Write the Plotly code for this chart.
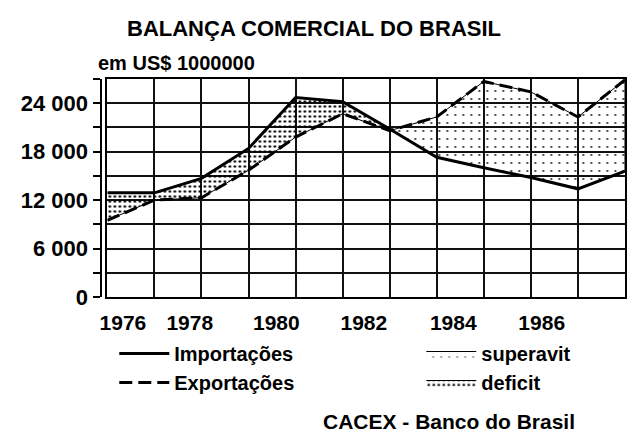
import plotly.graph_objects as go

years = [1976, 1977, 1978, 1979, 1980, 1981, 1982, 1983, 1984, 1985, 1986, 1987]
importacoes = [12900, 12900, 14700, 18400, 24700, 24200, 20800, 17300, 16000, 14800, 13400, 15600]
exportacoes = [9500, 12000, 12300, 15700, 19800, 22700, 20600, 22300, 26700, 25400, 22300, 26900]

# year labels (as placed in the original, slightly offset from the grid)
label_pos = [1976.33, 1977.75, 1979.59, 1981.45, 1983.35, 1985.23]
label_text = ["1976", "1978", "1980", "1982", "1984", "1986"]

FONT = "Liberation Sans"
W, H = 627, 432
L_PX, T_PX, B_PX = 101, 79, 297
PH = B_PX - T_PX

# split into deficit / superavit regions at crossings
def regions(x, a, b):
    segs = []
    cur_x, cur_a, cur_b = [x[0]], [a[0]], [b[0]]
    sign = a[0] >= b[0]
    for i in range(1, len(x)):
        s = a[i] >= b[i]
        if s != sign:
            d0 = a[i - 1] - b[i - 1]
            d1 = a[i] - b[i]
            t = d0 / (d0 - d1)
            xc = x[i - 1] + t * (x[i] - x[i - 1])
            yc = a[i - 1] + t * (a[i] - a[i - 1])
            cur_x.append(xc); cur_a.append(yc); cur_b.append(yc)
            segs.append((sign, cur_x, cur_a, cur_b))
            cur_x, cur_a, cur_b = [xc], [yc], [yc]
            sign = s
        cur_x.append(x[i]); cur_a.append(a[i]); cur_b.append(b[i])
    segs.append((sign, cur_x, cur_a, cur_b))
    return segs

fig = go.Figure()

segs = regions(years, importacoes, exportacoes)
shown = {True: False, False: False}
CLEAR = "rgba(0,0,0,0)"
# superavit first (legend order)
for want in (False, True):
    for sign, sx, sa, sb in segs:
        if sign != want:
            continue
        px = sx + sx[::-1]
        py = sa + sb[::-1]
        if sign:  # imports > exports -> deficit
            name, pat = "deficit", dict(shape=".", size=5, solidity=0.2, fgcolor="black", bgcolor=CLEAR, fillmode="replace")
        else:
            name, pat = "superavit", dict(shape=".", size=8, solidity=0.04, fgcolor="black", bgcolor=CLEAR, fillmode="replace")
        fig.add_trace(go.Scatter(
            x=px, y=py, fill="toself", mode="lines",
            line=dict(color="black", width=1),
            fillpattern=pat, fillcolor=CLEAR,
            name=name, legend="legend2", legendgroup=name,
            showlegend=not shown[sign], hoverinfo="skip"))
        shown[sign] = True

fig.add_trace(go.Scatter(x=years, y=importacoes, mode="lines", name="Importações",
                         line=dict(color="black", width=3), legend="legend"))
fig.add_trace(go.Scatter(x=years, y=exportacoes, mode="lines", name="Exportações",
                         line=dict(color="black", width=3, dash="13px,6px"), legend="legend"))

def py_paper(ypx):
    return (B_PX - ypx) / PH

grid = dict(color="#111111", width=1.8)

fig.update_layout(
    width=W, height=H,
    margin=dict(l=0, r=0, t=T_PX, b=H - B_PX, pad=0),
    paper_bgcolor="white", plot_bgcolor="white",
    font=dict(family=FONT, color="black", size=20, weight="bold"),
    separators=". ",
    title=dict(text="BALANÇA COMERCIAL DO BRASIL", x=314 / W, xanchor="center",
               y=1 - 28 / H, yanchor="middle",
               font=dict(family=FONT, size=22, color="black", weight="bold")),
    xaxis=dict(domain=[L_PX / W, 1], range=[1976, 1987], tickmode="linear", tick0=1976, dtick=1,
               showgrid=True, gridcolor=grid["color"], gridwidth=grid["width"],
               showticklabels=False, ticks="", zeroline=False,
               showline=True, linecolor="black", linewidth=2, mirror=True),
    xaxis2=dict(overlaying="x", matches="x", anchor="y", side="bottom",
                tickmode="array", tickvals=label_pos, ticktext=label_text,
                showgrid=False, zeroline=False, ticks="", showline=False,
                ticklabelstandoff=11,
                tickfont=dict(family=FONT, size=21, color="black", weight="bold")),
    yaxis=dict(range=[0, 27000], tickmode="linear", tick0=0, dtick=3000,
               showgrid=True, gridcolor=grid["color"], gridwidth=grid["width"],
               showticklabels=False, ticks="", zeroline=False,
               showline=True, linecolor="black", linewidth=2, mirror=True),
    yaxis2=dict(overlaying="y", matches="y", anchor="free", position=95 / W, side="left",
                tick0=0, dtick=6000, tickformat=",d",
                showgrid=False, zeroline=False,
                showline=True, linecolor="black", linewidth=2,
                ticks="outside", ticklen=7, tickwidth=2, tickcolor="black",
                minor=dict(dtick=3000, ticks="outside", ticklen=7, tickwidth=2, tickcolor="black", showgrid=False),
                ticklabelstandoff=1,
                tickfont=dict(family=FONT, size=22, color="black", weight="bold")),
    legend=dict(x=108 / W, y=py_paper(334), xanchor="left", yanchor="top",
                bgcolor=CLEAR, borderwidth=0, traceorder="normal",
                font=dict(family=FONT, size=20, color="black", weight="bold"),
                itemwidth=50, tracegroupgap=0),
    legend2=dict(x=420 / W, y=py_paper(334), xanchor="left", yanchor="top",
                 bgcolor=CLEAR, borderwidth=0, traceorder="normal",
                 font=dict(family=FONT, size=20, color="black", weight="bold"),
                 itemwidth=50, tracegroupgap=0),
    annotations=[
        dict(text="em US$ 1000000", x=89 / W, y=py_paper(63), xref="paper", yref="paper",
             xanchor="left", yanchor="middle", showarrow=False,
             font=dict(family=FONT, size=20, color="black", weight="bold")),
        dict(text="CACEX - Banco do Brasil", x=578 / W, y=py_paper(421), xref="paper", yref="paper",
             xanchor="right", yanchor="middle", showarrow=False,
             font=dict(family=FONT, size=21, color="black", weight="bold")),
    ],
)

# invisible anchor trace for xaxis2/yaxis2 so they render
fig.add_trace(go.Scatter(x=[years[0]], y=[0], xaxis="x2", yaxis="y2", mode="markers",
                         marker=dict(opacity=0), showlegend=False, hoverinfo="skip"))

fig.write_html("out.html", config={"displayModeBar": False},
               post_script="document.body.style.margin='0';document.body.style.overflow='hidden';")
